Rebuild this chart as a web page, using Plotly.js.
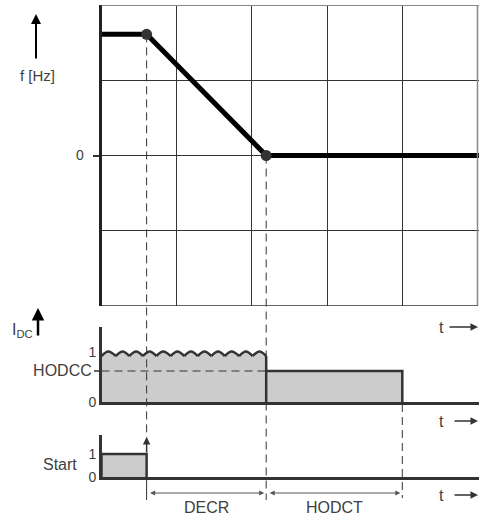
<!DOCTYPE html>
<html><head><meta charset="utf-8">
<script src="https://cdn.plot.ly/plotly-3.0.1.min.js"></script>
<style>html,body{margin:0;padding:0;background:#fff}#chart{width:479px;height:517px}</style>
</head><body><div id="chart"></div>
<script>
// ---------- data ----------
const fTime = [0, 0.6, 2.19, 5.02];
const fValue = [1.61, 1.61, 0, 0];
const fKnotTime = [0.6, 2.19];
const fKnotValue = [1.61, 0];

const rippleCuspTime = [0, 0.19, 0.37, 0.55, 0.73, 0.92, 1.10, 1.28, 1.46, 1.64, 1.83, 2.01, 2.19];
const ripplePeakTime = [0.09, 0.28, 0.46, 0.64, 0.82, 1.01, 1.19, 1.37, 1.55, 1.73, 1.92, 2.10];
const rippleCuspLevel = 0.92;
const ripplePeakLevel = 1.01;
const hodccLevel = 0.62;
const hodctEndTime = 4.0;

const startTime = [0, 0, 0.6, 0.6];
const startValue = [0, 1, 1, 0];

const fTickVals = [0];
const fTickText = ['0'];
const idcTickVals = [0, hodccLevel, 1];
const idcTickText = ['0', '<span style="font-size:16px">HODCC\u00a0</span>', '1'];
const startTickVals = [0, 1];
const startTickText = ['0', '1'];
const periodBounds = [0.6, 2.19, 4.0];
const periodLabels = ['DECR', 'HODCT'];

// ---------- layout helpers ----------
const W = 479, H = 517;
const px = v => v / W;
const py = v => 1 - v / H;
const xDom = [101.5 / W, 1];
const xRange = [0, 5.02];
const yDom = [py(306), py(5)], yRange = [-2, 2];
const y2Dom = [py(402), py(327)], y2Range = [0, 1.5];
const y3Dom = [py(477), py(435)], y3Range = [0, 42 / 23];
const toPaper = (dom, rng, v) => dom[0] + (v - rng[0]) / (rng[1] - rng[0]) * (dom[1] - dom[0]);

const dark = '#333333', txt = '#404040', fillGray = '#cccccc';
const FONT = 'Liberation Sans, Arial, sans-serif';

// IDC polygon and ripple outline
const idcX = [0], idcY = [0];
const ripX = [], ripY = [];
for (let i = 0; i < ripplePeakTime.length; i++) {
  idcX.push(rippleCuspTime[i], ripplePeakTime[i]);
  idcY.push(rippleCuspLevel, ripplePeakLevel);
  ripX.push(rippleCuspTime[i], ripplePeakTime[i], rippleCuspTime[i + 1], null);
  ripY.push(rippleCuspLevel, ripplePeakLevel, rippleCuspLevel, null);
}
const lastCusp = rippleCuspTime[rippleCuspTime.length - 1];
idcX.push(lastCusp, lastCusp, hodctEndTime, hodctEndTime);
idcY.push(rippleCuspLevel, hodccLevel, hodccLevel, 0);

const traces = [
  {x: idcX, y: idcY, xaxis: 'x2', yaxis: 'y2', mode: 'lines', fill: 'toself',
   fillcolor: fillGray, line: {width: 0}, hoverinfo: 'skip'},
  {x: ripX, y: ripY, xaxis: 'x2', yaxis: 'y2', mode: 'lines',
   line: {color: dark, width: 2.5, shape: 'spline'}, hoverinfo: 'skip'},
  {x: [lastCusp, lastCusp, null, lastCusp, hodctEndTime, hodctEndTime],
   y: [rippleCuspLevel, 0, null, hodccLevel, hodccLevel, 0],
   xaxis: 'x2', yaxis: 'y2', mode: 'lines', line: {color: dark, width: 2.5}, hoverinfo: 'skip'},
  {x: startTime, y: startValue, xaxis: 'x3', yaxis: 'y3', mode: 'lines', fill: 'toself',
   fillcolor: fillGray, line: {color: dark, width: 2.5}, hoverinfo: 'skip'},
  {x: fTime, y: fValue, xaxis: 'x', yaxis: 'y', mode: 'lines',
   line: {color: '#000', width: 5}, hoverinfo: 'skip'},
  {x: fKnotTime, y: fKnotValue, xaxis: 'x', yaxis: 'y', mode: 'markers',
   marker: {color: dark, size: 11}, hoverinfo: 'skip'}
];

const hidden = {showgrid: false, zeroline: false, showticklabels: false, ticks: ''};
const dash = '8px,5px';

const shapes = [
  // top panel frame
  {type: 'line', xref: 'x', yref: 'y', x0: 0, x1: xRange[1], y0: 2, y1: 2, line: {color: '#888', width: 2}},
  {type: 'line', xref: 'x', yref: 'y', x0: 5, x1: 5, y0: -2, y1: 2, line: {color: '#888', width: 1.5}},
  {type: 'line', xref: 'x', yref: 'y', x0: 0, x1: 5, y0: -2, y1: -2, line: {color: dark, width: 1.5}},
  // dashed guides
  {type: 'line', xref: 'x', yref: 'paper', x0: fKnotTime[0], x1: fKnotTime[0],
   y0: toPaper(yDom, yRange, fKnotValue[0]), y1: py(440), line: {color: dark, width: 1, dash: dash}},
  {type: 'line', xref: 'x', yref: 'paper', x0: fKnotTime[0], x1: fKnotTime[0],
   y0: py(477), y1: py(500), line: {color: dark, width: 1}},
  {type: 'line', xref: 'x', yref: 'paper', x0: fKnotTime[1], x1: fKnotTime[1],
   y0: toPaper(yDom, yRange, fKnotValue[1]), y1: py(500), line: {color: dark, width: 1, dash: dash}},
  {type: 'line', xref: 'x', yref: 'paper', x0: hodctEndTime, x1: hodctEndTime,
   y0: py(404), y1: py(498), line: {color: dark, width: 1, dash: dash}},
  // HODCC level
  {type: 'line', xref: 'x2', yref: 'y2', x0: 0, x1: lastCusp, y0: hodccLevel, y1: hodccLevel,
   line: {color: dark, width: 1, dash: dash}},
  {type: 'line', xref: 'paper', yref: 'y2', x0: px(94), x1: px(101.5), y0: hodccLevel, y1: hodccLevel,
   line: {color: dark, width: 1.5}}
];

const ann = [];
const label = (x, y, text, size) => ann.push({xref: 'paper', yref: 'paper', x: x, y: y,
  xanchor: 'center', yanchor: 'middle',
  text: text, showarrow: false, font: {family: FONT, size: size, color: txt}});
const arrow = (x, y, ax, ay, color, width) => ann.push({xref: 'paper', yref: 'paper', x: x, y: y, ax: ax, ay: ay,
  text: '', showarrow: true, arrowhead: 2, arrowsize: 1, arrowwidth: width, arrowcolor: color, standoff: 0});

label(px(37), py(75), 'f [Hz]', 15);
arrow(px(36), py(14), 0, 46, '#000', 2);
label(px(22), py(330), 'I<sub>DC</sub>', 16);
arrow(px(38), py(308), 0, 29, '#000', 2.5);
label(px(60), py(464), 'Start', 16);
[[327, 448], [421, 453], [495, 453]].forEach(function (r) {
  label(px(441), py(r[0]), 't', 16);
  arrow(px(478), py(r[0]), -(478 - r[1]), 0, dark, 1.5);
});
// start trigger arrow
ann.push({xref: 'x', yref: 'paper', x: fKnotTime[0], y: py(437), ax: 0, ay: 17, text: '',
  showarrow: true, arrowhead: 2, arrowsize: 1, arrowwidth: 1.5, arrowcolor: dark, standoff: 0});
// period dimension arrows
for (let i = 0; i < periodLabels.length; i++) {
  ann.push({xref: 'x', yref: 'paper', x: periodBounds[i + 1], y: py(493), axref: 'x', ax: periodBounds[i],
    ayref: 'pixel', ay: 0, text: '', showarrow: true, arrowside: 'end+start', arrowhead: 2, startarrowhead: 2,
    arrowsize: 1, startarrowsize: 1, arrowwidth: 1, arrowcolor: '#555', standoff: 2, startstandoff: 2});
  ann.push({xref: 'x', yref: 'paper', x: (periodBounds[i] + periodBounds[i + 1]) / 2, y: py(508),
    xanchor: 'center', yanchor: 'middle',
    text: periodLabels[i], showarrow: false, font: {family: FONT, size: 16, color: txt}});
}

const layout = {
  width: W, height: H, margin: {l: 0, r: 0, t: 0, b: 0, pad: 0},
  paper_bgcolor: '#fff', plot_bgcolor: 'rgba(0,0,0,0)', showlegend: false,
  font: {family: FONT, color: txt},
  xaxis: {domain: xDom, range: xRange, anchor: 'y', showgrid: true, gridcolor: dark, gridwidth: 1,
    tickvals: [1, 2, 3, 4], showticklabels: false, ticks: '', zeroline: false, showline: false},
  yaxis: {domain: yDom, range: yRange, anchor: 'x', tickvals: fTickVals, ticktext: fTickText,
    ticks: 'outside', ticklen: 6, tickwidth: 2, tickcolor: dark, ticklabelstandoff: 6,
    tickfont: {size: 14, color: txt}, showgrid: true, gridcolor: dark, gridwidth: 1,
    minor: {dtick: 1, tick0: 0, showgrid: true, gridcolor: dark, gridwidth: 1, ticks: ''},
    zeroline: false, showline: true, linecolor: '#222', linewidth: 3},
  xaxis2: Object.assign({domain: xDom, matches: 'x', anchor: 'y2', showline: true, linecolor: dark, linewidth: 2.5}, hidden),
  yaxis2: {domain: y2Dom, range: y2Range, anchor: 'x2', tickvals: idcTickVals, ticktext: idcTickText,
    ticks: '', tickfont: {size: 14, color: txt}, showgrid: false, zeroline: false,
    showline: true, linecolor: dark, linewidth: 2.5},
  xaxis3: Object.assign({domain: xDom, matches: 'x', anchor: 'y3', showline: true, linecolor: dark, linewidth: 2.5}, hidden),
  yaxis3: {domain: y3Dom, range: y3Range, anchor: 'x3', tickvals: startTickVals, ticktext: startTickText,
    ticks: '', tickfont: {size: 14, color: txt}, showgrid: false, zeroline: false,
    showline: true, linecolor: dark, linewidth: 2.5},
  shapes: shapes, annotations: ann
};

Plotly.newPlot('chart', traces, layout, {staticPlot: true, displayModeBar: false});
</script></body></html>
